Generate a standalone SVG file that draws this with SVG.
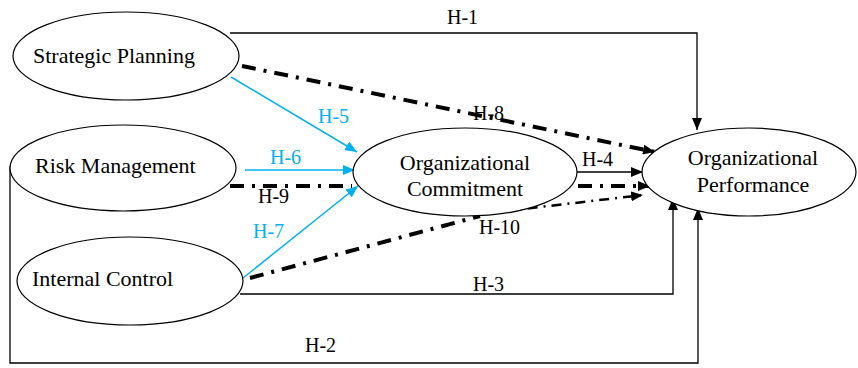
<svg xmlns="http://www.w3.org/2000/svg" width="858" height="368" viewBox="0 0 858 368">
<style>
text{font-family:"Liberation Serif","Times New Roman",serif;fill:#000}
.node{font-size:22px}
.lbl{font-size:20px}
.blue{fill:#00B0F0}
ellipse{fill:#fff;stroke:#000;stroke-width:1.2}
.solid{fill:none;stroke:#000;stroke-width:1.3}
.bl{fill:none;stroke:#00B0F0;stroke-width:1.5}
.dd{fill:none;stroke:#000;stroke-width:4;stroke-dasharray:14 8 3 8}
.ddt{fill:none;stroke:#000;stroke-width:2.5;stroke-dasharray:10 6 2 6}
</style>
<defs>
<marker id="ak" markerUnits="userSpaceOnUse" markerWidth="12" markerHeight="10" viewBox="0 0 12 10" refX="12" refY="5" orient="auto"><path d="M0,0 L12,5 L0,10 Z" fill="#000"/></marker>
<marker id="ab" markerUnits="userSpaceOnUse" markerWidth="12" markerHeight="10" viewBox="0 0 12 10" refX="12" refY="5" orient="auto"><path d="M0,0 L12,5 L0,10 Z" fill="#00B0F0"/></marker>
</defs>
<g id="connectors">
<polyline class="solid" points="230,33 697,33 697,130" marker-end="url(#ak)"/>
<polyline class="solid" points="12,167 10,167 10,363 698,363 698,208" marker-end="url(#ak)"/>
<polyline class="solid" points="240,294 673,294 673,198" marker-end="url(#ak)"/>
<line class="solid" x1="577" y1="172" x2="643" y2="172" marker-end="url(#ak)"/>
<line class="dd" x1="242" y1="66" x2="655" y2="152" marker-end="url(#ak)"/>
<line class="dd" x1="230" y1="186" x2="352" y2="186"/>
<line class="dd" x1="578" y1="186" x2="650" y2="186" marker-end="url(#ak)"/>
<line class="dd" x1="250" y1="278" x2="480" y2="216"/>
<line class="ddt" x1="480" y1="214" x2="643" y2="195" marker-end="url(#ak)"/>
<line class="bl" x1="231" y1="77" x2="357" y2="152" marker-end="url(#ab)"/>
<line class="bl" x1="245" y1="170" x2="355" y2="170" marker-end="url(#ab)"/>
<line class="bl" x1="243" y1="278" x2="358" y2="186" marker-end="url(#ab)"/>
<text class="lbl" x="447" y="24">H-1</text>
<text class="lbl" x="473" y="120">H-8</text>
<text class="lbl blue" x="318" y="123">H-5</text>
<text class="lbl blue" x="270" y="164">H-6</text>
<text class="lbl" x="582" y="166">H-4</text>
<text class="lbl" x="258" y="203">H-9</text>
<text class="lbl blue" x="253" y="238">H-7</text>
<text class="lbl" x="479" y="234">H-10</text>
<text class="lbl" x="473" y="291">H-3</text>
<text class="lbl" x="305" y="352">H-2</text>
</g>
<g id="strategic-planning">
<ellipse cx="126" cy="56" rx="113" ry="44"/>
<text class="node" x="33" y="63">Strategic Planning</text>
</g>
<g id="risk-management">
<ellipse cx="123" cy="168" rx="113" ry="43"/>
<text class="node" x="35" y="173">Risk Management</text>
</g>
<g id="internal-control">
<ellipse cx="130" cy="281" rx="113" ry="44"/>
<text class="node" x="32" y="286">Internal Control</text>
</g>
<g id="organizational-commitment">
<ellipse cx="465" cy="172" rx="112" ry="44"/>
<text class="node" x="465" y="170" text-anchor="middle">Organizational</text>
<text class="node" x="465" y="196" text-anchor="middle">Commitment</text>
</g>
<g id="organizational-performance">
<ellipse cx="749" cy="172" rx="107" ry="44"/>
<text class="node" x="753" y="165" text-anchor="middle">Organizational</text>
<text class="node" x="753" y="192" text-anchor="middle">Performance</text>
</g>
</svg>
